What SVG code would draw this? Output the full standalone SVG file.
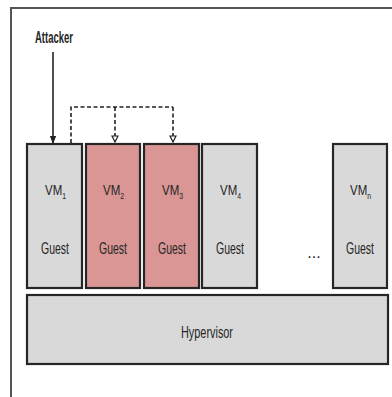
<svg xmlns="http://www.w3.org/2000/svg" width="392" height="397" viewBox="0 0 392 397">
  <defs>
    <style>
      .box { stroke: #262626; stroke-width: 2.2; }
      .gray { fill: #d9d9d9; }
      .red { fill: #d99694; }
      .lbl { font-family: "Liberation Sans", Arial, sans-serif; font-size: 16px; fill: #262626; text-anchor: middle; }
      .vm { font-size: 15px; text-anchor: start; }
      .sub { font-size: 9px; }
      .frame { stroke: #555; stroke-width: 2; fill: none; }
      .conn { stroke: #222; stroke-width: 1.6; fill: none; }
      .dash { stroke-dasharray: 4 2.5; }
    </style>
    <marker id="openHead" markerWidth="8" markerHeight="8" refX="7" refY="4" orient="auto" markerUnits="userSpaceOnUse" viewBox="0 0 8 8">
      <path d="M1,1 L7,4 L1,7 Z" fill="#fff" stroke="#222" stroke-width="1.2"/>
    </marker>
    <marker id="arrowSolid" markerWidth="8" markerHeight="8" refX="7" refY="4" orient="auto" markerUnits="userSpaceOnUse" viewBox="0 0 8 8">
      <path d="M0,0.8 L8,4 L0,7.2 Z" fill="#222"/>
    </marker>
  </defs>

  <rect width="392" height="397" fill="#fff"/>

  <!-- outer frame: top and left edges -->
  <path class="frame" d="M11,397 L11,8 L392,8"/>

  <!-- connectors -->
  <g id="connectors">
    <line class="conn" x1="53" y1="52" x2="53" y2="143" marker-end="url(#arrowSolid)"/>
    <path class="conn dash" d="M71,143 L71,107 L173,107"/>
    <line class="conn dash" x1="115" y1="107" x2="115" y2="142" marker-end="url(#openHead)"/>
    <line class="conn dash" x1="173" y1="107" x2="173" y2="142" marker-end="url(#openHead)"/>
  </g>

  <g id="attacker">
    <text class="lbl" x="54" y="43" font-size="15" font-weight="bold" textLength="38" lengthAdjust="spacingAndGlyphs">Attacker</text>
  </g>

  <g id="vm1">
    <rect class="box gray" x="27" y="144" width="55" height="144"/>
    <text class="lbl vm" x="45" y="195" textLength="21" lengthAdjust="spacingAndGlyphs">VM<tspan class="sub" dy="4">1</tspan></text>
    <text class="lbl" x="55" y="254" textLength="28" lengthAdjust="spacingAndGlyphs">Guest</text>
  </g>

  <g id="vm2">
    <rect class="box red" x="86" y="144" width="54" height="144"/>
    <text class="lbl vm" x="103" y="195" textLength="21" lengthAdjust="spacingAndGlyphs">VM<tspan class="sub" dy="4">2</tspan></text>
    <text class="lbl" x="113" y="254" textLength="28" lengthAdjust="spacingAndGlyphs">Guest</text>
  </g>

  <g id="vm3">
    <rect class="box red" x="144" y="144" width="55" height="144"/>
    <text class="lbl vm" x="162" y="195" textLength="21" lengthAdjust="spacingAndGlyphs">VM<tspan class="sub" dy="4">3</tspan></text>
    <text class="lbl" x="172" y="254" textLength="28" lengthAdjust="spacingAndGlyphs">Guest</text>
  </g>

  <g id="vm4">
    <rect class="box gray" x="202" y="144" width="55" height="144"/>
    <text class="lbl vm" x="220" y="195" textLength="21" lengthAdjust="spacingAndGlyphs">VM<tspan class="sub" dy="4">4</tspan></text>
    <text class="lbl" x="230" y="254" textLength="28" lengthAdjust="spacingAndGlyphs">Guest</text>
  </g>

  <g id="ellipsis">
    <text class="lbl" x="314" y="258" font-size="13">...</text>
  </g>

  <g id="vmn">
    <rect class="box gray" x="333" y="144" width="54" height="144"/>
    <text class="lbl vm" x="350" y="195" textLength="21" lengthAdjust="spacingAndGlyphs">VM<tspan class="sub" dy="4">n</tspan></text>
    <text class="lbl" x="360" y="254" textLength="28" lengthAdjust="spacingAndGlyphs">Guest</text>
  </g>

  <g id="hypervisor">
    <rect class="box gray" x="27" y="295" width="361" height="69"/>
    <text class="lbl" x="207" y="338" textLength="52" lengthAdjust="spacingAndGlyphs">Hypervisor</text>
  </g>
</svg>
